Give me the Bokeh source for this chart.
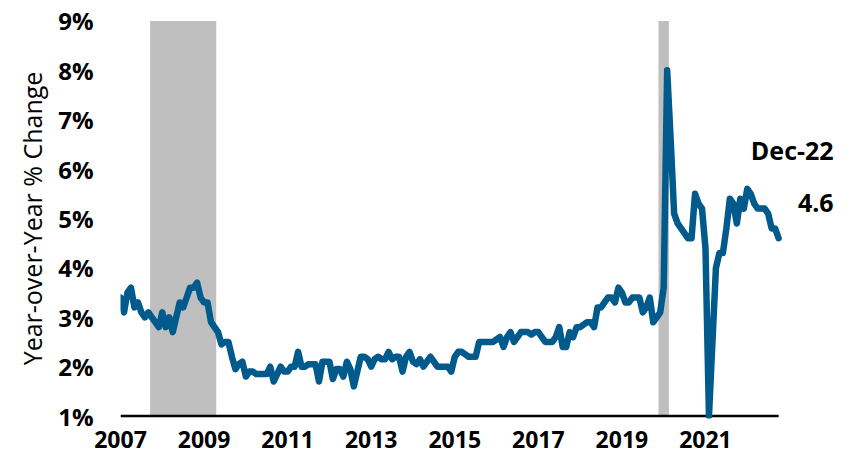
import pandas as pd
from bokeh.plotting import figure
from bokeh.models import Range1d, FixedTicker
from bokeh.core.properties import value
from bokeh.embed import file_html
from bokeh.resources import INLINE

# ---- data -------------------------------------------------------------
start_month = "2007-03"
yoy_change = [
    3.4, 3.1, 3.5, 3.6, 3.2, 3.3, 3.1, 3.0, 3.1, 3.0,                 # 2007 Mar-Dec
    2.9, 2.8, 3.1, 2.8, 3.0, 2.7, 3.0, 3.3, 3.2, 3.4, 3.6, 3.6,       # 2008
    3.7, 3.4, 3.3, 3.3, 2.9, 2.8, 2.7, 2.45, 2.5, 2.5, 2.2, 1.95,     # 2009
    2.05, 2.1, 1.8, 1.9, 1.9, 1.85, 1.85, 1.85, 1.85, 2.0, 1.7, 1.85, # 2010
    2.0, 1.9, 1.9, 2.0, 2.0, 2.3, 2.0, 2.0, 2.05, 2.05, 2.05, 1.7,    # 2011
    2.1, 2.1, 2.1, 1.75, 1.95, 1.95, 1.8, 2.1, 1.95, 1.6, 1.9, 2.2,   # 2012
    2.2, 2.15, 2.0, 2.15, 2.2, 2.15, 2.15, 2.3, 2.15, 2.2, 2.2, 1.9,  # 2013
    2.2, 2.3, 2.1, 2.05, 2.15, 2.0, 2.1, 2.2, 2.1, 2.0, 2.0, 2.0,     # 2014
    2.0, 1.9, 2.2, 2.3, 2.3, 2.25, 2.2, 2.2, 2.2, 2.5, 2.5, 2.5,      # 2015
    2.5, 2.5, 2.55, 2.6, 2.4, 2.6, 2.7, 2.5, 2.6, 2.7, 2.7, 2.7,      # 2016
    2.65, 2.7, 2.7, 2.6, 2.5, 2.5, 2.5, 2.6, 2.8, 2.4, 2.4, 2.7,      # 2017
    2.6, 2.8, 2.8, 2.85, 2.9, 2.9, 2.8, 3.2, 3.2, 3.3, 3.4, 3.4,      # 2018
    3.3, 3.6, 3.5, 3.3, 3.3, 3.4, 3.4, 3.4, 3.1, 3.2, 3.4, 2.9,       # 2019
    3.0, 3.1, 3.6, 8.0, 6.6, 5.1, 4.9, 4.8, 4.7, 4.6, 4.6, 5.5,       # 2020
    5.3, 5.2, 4.4, 1.0, 2.5, 4.0, 4.3, 4.3, 4.8, 5.4, 5.3, 4.9,       # 2021
    5.4, 5.2, 5.6, 5.5, 5.3, 5.2, 5.2, 5.2, 5.1, 4.8, 4.8, 4.6,       # 2022
]
year_labels = ["2007", "2009", "2011", "2013", "2015", "2017", "2019", "2021"]
y_ticks = [1, 2, 3, 4, 5, 6, 7, 8, 9]
recession_start = ["2007-12", "2020-02"]
recession_end = ["2009-06", "2020-04"]
last_label = "Dec-22"

# ---- helpers ----------------------------------------------------------
months = pd.period_range(start_month, periods=len(yoy_change), freq="M")
idx = list(range(len(months)))


def month_index(s):
    return (pd.Period(s, "M") - months[0]).n


tick_pos = [month_index(y + start_month[4:]) for y in year_labels]

# ---- figure -----------------------------------------------------------
FONT = "Open Sans"
BLUE = "#005A8C"

p = figure(
    frame_width=726, frame_height=400,
    x_range=Range1d(0, 208.5), y_range=Range1d(0.95, 9.05),
    output_backend="svg", toolbar_location=None,
    min_border_left=120, min_border_right=0,
    min_border_top=18, min_border_bottom=44,
)
p.outline_line_color = None
p.xgrid.visible = False
p.ygrid.visible = False
p.background_fill_color = "white"
p.border_fill_color = "white"

# recession shading
p.quad(
    left=[month_index(s) - 0.5 for s in recession_start],
    right=[month_index(e) + 0.5 for e in recession_end],
    bottom=y_ticks[0], top=y_ticks[-1],
    fill_color="#BFBFBF", line_color=None,
)

# baseline at bottom of the axis
p.segment(x0=[idx[0]], y0=[y_ticks[0]], x1=[idx[-1]], y1=[y_ticks[0]],
          line_color="black", line_width=2.5)

# series
p.line(idx, yoy_change, line_color=BLUE, line_width=6.5,
       line_join="round", line_cap="round")

# end labels
end_x = idx[-1] + 15.8
p.text(x=[end_x], y=[6.38], text=[last_label], text_align="right",
       text_baseline="alphabetic", text_font=value(FONT),
       text_font_size="25px", text_font_style="bold", text_color="black")
p.text(x=[end_x], y=[5.31], text=[f"{yoy_change[-1]:.1f}"], text_align="right",
       text_baseline="alphabetic", text_font=value(FONT),
       text_font_size="25px", text_font_style="bold", text_color="black")

# axes
xa = p.xaxis[0]
xa.ticker = FixedTicker(ticks=tick_pos)
xa.major_label_overrides = {t: l for t, l in zip(tick_pos, year_labels)}
xa.axis_line_color = None
xa.major_tick_line_color = None
xa.minor_tick_line_color = None
xa.major_tick_out = 0
xa.major_tick_in = 0
xa.major_label_standoff = 12
xa.major_label_text_font = FONT
xa.major_label_text_font_size = "23px"
xa.major_label_text_font_style = "bold"
xa.major_label_text_color = "black"

ya = p.yaxis[0]
ya.ticker = FixedTicker(ticks=y_ticks)
ya.major_label_overrides = {t: f"{t}%" for t in y_ticks}
ya.axis_line_color = None
ya.major_tick_line_color = None
ya.minor_tick_line_color = None
ya.major_tick_out = 0
ya.major_tick_in = 0
ya.major_label_standoff = 27
ya.major_label_text_font = FONT
ya.major_label_text_font_size = "24px"
ya.major_label_text_font_style = "bold"
ya.major_label_text_color = "black"
ya.axis_label = "Year-over-Year % Change"
ya.axis_label_text_font = FONT
ya.axis_label_text_font_size = "25px"
ya.axis_label_text_font_style = "normal"
ya.axis_label_text_color = "black"
ya.axis_label_standoff = 6

open("out.html", "w").write(file_html(p, INLINE))
